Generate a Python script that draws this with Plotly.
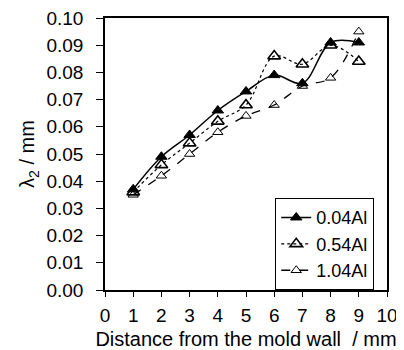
import plotly.graph_objects as go

distance = [1, 2, 3, 4, 5, 6, 7, 8, 9]
al_004 = [0.037, 0.049, 0.057, 0.066, 0.073, 0.079, 0.076, 0.091, 0.091]
al_054 = [0.036, 0.046, 0.054, 0.062, 0.068, 0.086, 0.083, 0.090, 0.084]
al_104 = [0.035, 0.042, 0.050, 0.058, 0.064, 0.068, 0.075, 0.078, 0.095]
series_names = ["0.04Al", "0.54Al", "1.04Al"]
x_ticks = list(range(0, 11))
y_ticks = [i / 100 for i in range(0, 11)]

FONT = "Liberation Sans, Arial, sans-serif"

fig = go.Figure()
fig.add_trace(go.Scatter(
    x=distance, y=al_004, name=series_names[0], mode="lines+markers",
    line=dict(color="black", width=1.5, shape="spline", smoothing=1.0, dash="solid"),
    marker=dict(symbol="triangle-up", size=10, color="black", line=dict(color="black", width=1)),
))
fig.add_trace(go.Scatter(
    x=distance, y=al_054, name=series_names[1], mode="lines+markers",
    line=dict(color="black", width=1.2, shape="spline", smoothing=1.0, dash="dot"),
    marker=dict(symbol="triangle-up-open", size=11, color="black", line=dict(color="black", width=1.6)),
))
fig.add_trace(go.Scatter(
    x=distance, y=al_104, name=series_names[2], mode="lines+markers",
    line=dict(color="black", width=1.3, shape="spline", smoothing=1.0, dash="dash"),
    marker=dict(symbol="triangle-up-open", size=9, color="black", line=dict(color="black", width=1)),
))

# The page body has an 8px default margin, so the figure is offset by 8px.
fig.update_layout(
    width=396, height=342,
    margin=dict(l=97, r=17, t=10, b=60),
    paper_bgcolor="white", plot_bgcolor="white",
    font=dict(family=FONT, size=19, color="black"),
    showlegend=True,
    legend=dict(
        x=0.603, y=0.338, xanchor="left", yanchor="top",
        bordercolor="black", borderwidth=1.2, bgcolor="white",
        font=dict(family=FONT, size=18, color="black"),
        tracegroupgap=0, itemwidth=30,
    ),
    xaxis=dict(
        range=[0, 10], tickvals=x_ticks, ticktext=[str(v) for v in x_ticks],
        showgrid=False, zeroline=False, showline=True, linecolor="black", linewidth=1.5,
        mirror=True, ticks="outside", ticklen=5, tickwidth=1.2, tickcolor="black",
        ticklabelstandoff=2, ticklabeloverflow="allow",
        automargin=False, tickfont=dict(size=19),
        title=dict(text="Distance from the mold wall  / mm", font=dict(size=20), standoff=8),
    ),
    yaxis=dict(
        range=[0, 0.10], tickvals=y_ticks, ticktext=[f"{v:.2f}" for v in y_ticks],
        showgrid=False, zeroline=False, showline=True, linecolor="black", linewidth=1.5,
        mirror=True, ticks="outside", ticklen=7, tickwidth=1.2, tickcolor="black",
        ticklabelstandoff=9, ticklabeloverflow="allow",
        automargin=False, tickfont=dict(size=19),
        title=dict(text="λ<sub>2</sub> / mm", font=dict(size=20), standoff=6),
    ),
)

fig.write_html("out.html")
